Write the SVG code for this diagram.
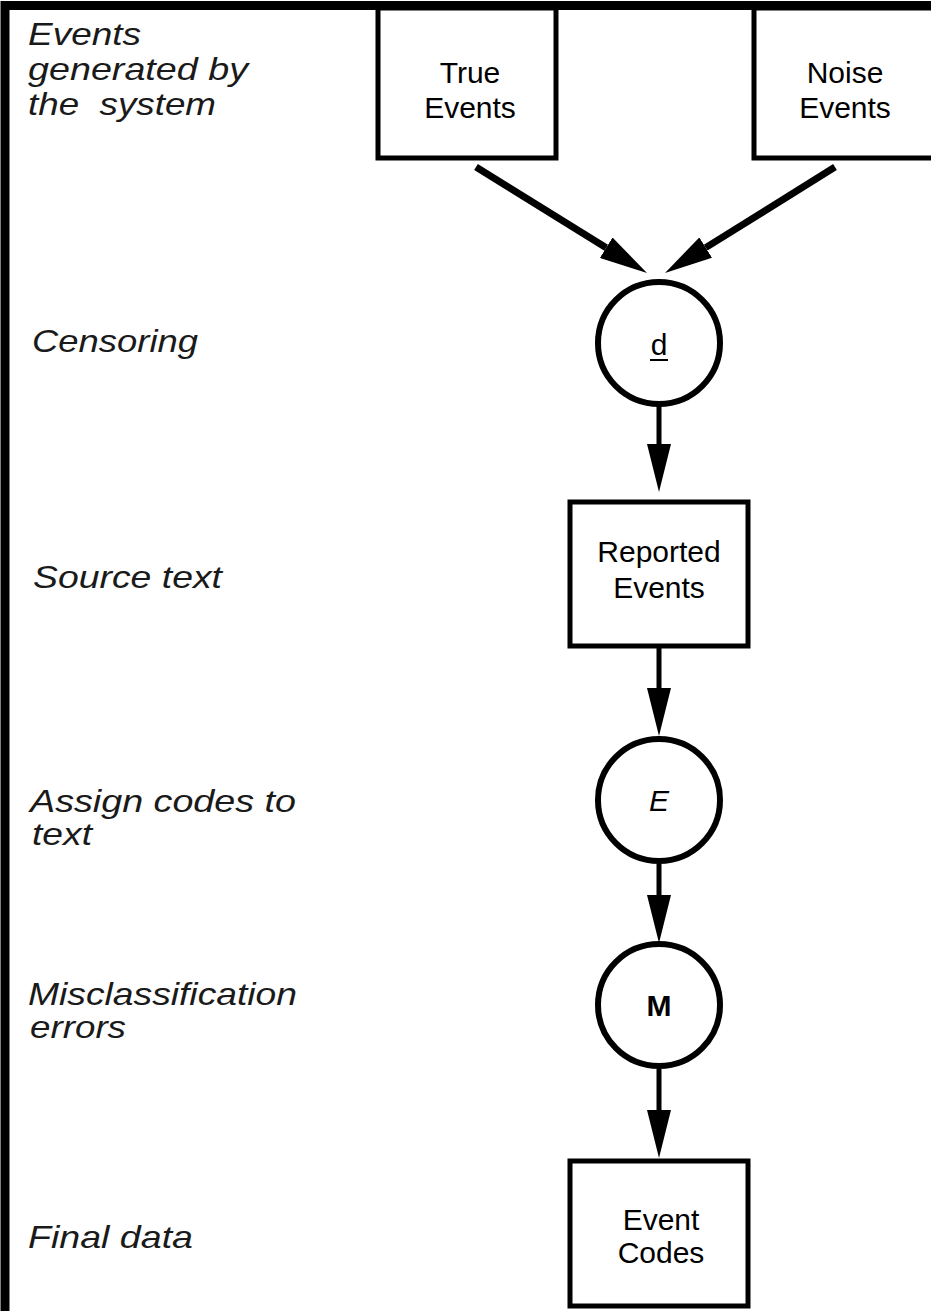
<svg xmlns="http://www.w3.org/2000/svg" width="931" height="1311" viewBox="0 0 931 1311">
<style>
.box{fill:#fff;stroke:#000;stroke-width:5}
.circ{fill:#fff;stroke:#000;stroke-width:6}
.nt{font-family:"Liberation Sans",Arial,sans-serif;font-size:30px;fill:#000;text-anchor:middle}
.lab{font-family:"Liberation Sans",Arial,sans-serif;font-size:32px;font-style:italic;fill:#1a1a1a}
.conn{stroke:#000;fill:none}
</style>
<defs>
<marker id="ah" markerUnits="userSpaceOnUse" markerWidth="48" markerHeight="24" refX="0" refY="12" orient="auto" viewBox="0 0 48 24">
<path d="M0,0 L48,12 L0,24 Z" fill="#000"/>
</marker>
</defs>
<rect width="931" height="1311" fill="#fff"/>
<g id="frame">
<path d="M5,1311 V5.5 H931" fill="none" stroke="#000" stroke-width="9"/>
</g>
<g id="labels">
<text class="lab" x="28" y="45" textLength="113" lengthAdjust="spacingAndGlyphs">Events</text>
<text class="lab" x="28" y="80" textLength="220" lengthAdjust="spacingAndGlyphs">generated by</text>
<text class="lab" x="28" y="115" textLength="188" lengthAdjust="spacingAndGlyphs" xml:space="preserve">the  system</text>
<text class="lab" x="32" y="352" textLength="166" lengthAdjust="spacingAndGlyphs">Censoring</text>
<text class="lab" x="33" y="588" textLength="189" lengthAdjust="spacingAndGlyphs">Source text</text>
<text class="lab" x="30" y="812" textLength="266" lengthAdjust="spacingAndGlyphs">Assign codes to</text>
<text class="lab" x="32" y="845" textLength="60" lengthAdjust="spacingAndGlyphs">text</text>
<text class="lab" x="28" y="1005" textLength="269" lengthAdjust="spacingAndGlyphs">Misclassification</text>
<text class="lab" x="30" y="1038" textLength="96" lengthAdjust="spacingAndGlyphs">errors</text>
<text class="lab" x="28" y="1248" textLength="165" lengthAdjust="spacingAndGlyphs">Final data</text>
</g>
<g id="connectors">
<line class="conn" x1="476" y1="167" x2="606.2" y2="247.7" stroke-width="7" marker-end="url(#ah)"/>
<line class="conn" x1="835" y1="167" x2="705.7" y2="247.6" stroke-width="7" marker-end="url(#ah)"/>
<line class="conn" x1="659" y1="405" x2="659" y2="444" stroke-width="5" marker-end="url(#ah)"/>
<line class="conn" x1="659" y1="648" x2="659" y2="688" stroke-width="5" marker-end="url(#ah)"/>
<line class="conn" x1="659" y1="864" x2="659" y2="895" stroke-width="5" marker-end="url(#ah)"/>
<line class="conn" x1="659" y1="1069" x2="659" y2="1110" stroke-width="5" marker-end="url(#ah)"/>
</g>
<g id="true-events">
<rect class="box" x="378" y="8" width="178" height="150"/>
<text class="nt" x="470" y="83">True</text>
<text class="nt" x="470" y="118">Events</text>
</g>
<g id="noise-events">
<rect class="box" x="754" y="8" width="200" height="150"/>
<text class="nt" x="845" y="83">Noise</text>
<text class="nt" x="845" y="118">Events</text>
</g>
<g id="censoring">
<circle class="circ" cx="659" cy="343" r="61"/>
<text class="nt" x="659" y="355">d</text>
<line x1="650" y1="360" x2="668" y2="360" stroke="#000" stroke-width="2"/>
</g>
<g id="reported-events">
<rect class="box" x="570" y="502" width="178" height="144"/>
<text class="nt" x="659" y="562">Reported</text>
<text class="nt" x="659" y="598">Events</text>
</g>
<g id="coding">
<circle class="circ" cx="659" cy="800" r="61"/>
<text class="nt" x="659" y="811" font-style="italic">E</text>
</g>
<g id="misclassification">
<circle class="circ" cx="659" cy="1005" r="61"/>
<text class="nt" x="659" y="1016" font-weight="bold" font-size="28px">M</text>
</g>
<g id="event-codes">
<rect class="box" x="570" y="1161" width="178" height="145"/>
<text class="nt" x="661" y="1230">Event</text>
<text class="nt" x="661" y="1263">Codes</text>
</g>
</svg>
